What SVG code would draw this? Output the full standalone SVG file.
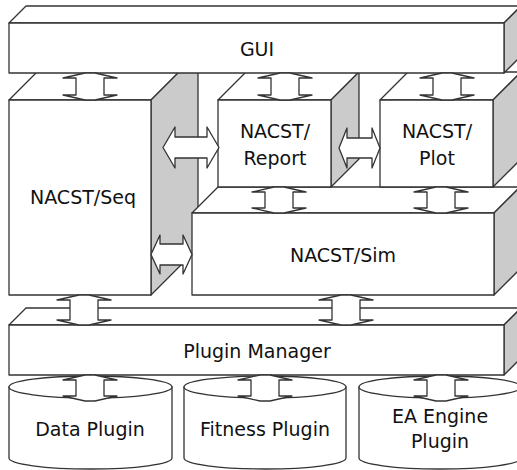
<svg xmlns="http://www.w3.org/2000/svg" width="517" height="470" viewBox="0 0 517 470">
<style>
.f{fill:#fff;stroke:#333;stroke-width:1.3;stroke-linejoin:round}
.s{fill:#cbcbcb;stroke:#333;stroke-width:1.3;stroke-linejoin:round}
.a{fill:#fff;stroke:#333;stroke-width:1.3;stroke-linejoin:round}
text{font-family:"DejaVu Sans","Liberation Sans",sans-serif;font-size:19px;fill:#111;text-anchor:middle}
</style>
<rect width="517" height="470" fill="#fff"/>
<g id="seq">
<polygon class="f" points="9,100 56,53 198,53 151,100"/>
<polygon class="s" points="151,100 198,53 198,248 151,295"/>
<rect class="f" x="9" y="100" width="142" height="195"/>
<text x="83" y="204">NACST/Seq</text>
</g>
<g id="sim">
<polygon class="f" points="192,213 218,187 520,187 494,213"/>
<polygon class="s" points="494,213 520,187 520,269 494,295"/>
<rect class="f" x="192" y="213" width="302" height="82"/>
<text x="343" y="262">NACST/Sim</text>
</g>
<g id="report">
<polygon class="f" points="218,100 246,72 359,72 331,100"/>
<polygon class="s" points="331,100 359,72 359,159 331,187"/>
<rect class="f" x="218" y="100" width="113" height="87"/>
<text x="275" y="138">NACST/</text>
<text x="275" y="165">Report</text>
</g>
<g id="plot">
<polygon class="f" points="380,100 408,72 521,72 493,100"/>
<polygon class="s" points="493,100 521,72 521,159 493,187"/>
<rect class="f" x="380" y="100" width="113" height="87"/>
<text x="437" y="138">NACST/</text>
<text x="437" y="165">Plot</text>
</g>
<g id="gui">
<polygon class="f" points="9,23 26,6 521,6 504,23"/>
<polygon class="s" points="504,23 521,6 521,56 504,73"/>
<rect class="f" x="9" y="23" width="495" height="50"/>
<text x="257" y="56">GUI</text>
</g>
<g id="pluginmanager">
<polygon class="f" points="9,325 26,308 521,308 504,325"/>
<polygon class="s" points="504,325 521,308 521,358 504,375"/>
<rect class="f" x="9" y="325" width="495" height="50"/>
<text x="257" y="358">Plugin Manager</text>
</g>
<g id="dataplugin">
<path class="f" d="M9,387 L9,458 A81.5,11 0 0 0 172,458 L172,387 Z"/>
<ellipse class="f" cx="90.5" cy="387" rx="81.5" ry="11"/>
<text x="90" y="436">Data Plugin</text>
</g>
<g id="fitnessplugin">
<path class="f" d="M184,387 L184,458 A81,11 0 0 0 346,458 L346,387 Z"/>
<ellipse class="f" cx="265" cy="387" rx="81" ry="11"/>
<text x="265" y="436">Fitness Plugin</text>
</g>
<g id="eaengineplugin">
<path class="f" d="M359,387 L359,458 A81,11 0 0 0 521,458 L521,387 Z"/>
<ellipse class="f" cx="440" cy="387" rx="81" ry="11"/>
<text x="440" y="423">EA Engine</text>
<text x="440" y="448">Plugin</text>
</g>
<g id="connectors">
<path class="a" d="M85,73 L95,73 L117,78 L104,78 L104,95 L117,95 L95,100 L85,100 L63,95 L76,95 L76,78 L63,78 Z"/>
<path class="a" d="M280,73 L290,73 L312,78 L299,78 L299,95 L312,95 L290,100 L280,100 L258,95 L271,95 L271,78 L258,78 Z"/>
<path class="a" d="M442,73 L452,73 L474,78 L461,78 L461,95 L474,95 L452,100 L442,100 L420,95 L433,95 L433,78 L420,78 Z"/>
<path class="a" d="M274,187 L284,187 L306,192 L293,192 L293,208 L306,208 L284,213 L274,213 L252,208 L265,208 L265,192 L252,192 Z"/>
<path class="a" d="M436,187 L446,187 L468,192 L455,192 L455,208 L468,208 L446,213 L436,213 L414,208 L427,208 L427,192 L414,192 Z"/>
<path class="a" d="M79,295 L89,295 L111,300 L98,300 L98,320 L111,320 L89,325 L79,325 L57,320 L70,320 L70,300 L57,300 Z"/>
<path class="a" d="M341,295 L351,295 L373,300 L360,300 L360,320 L373,320 L351,325 L341,325 L319,320 L332,320 L332,300 L319,300 Z"/>
<path class="a" d="M85,375 L95,375 L117,380 L104,380 L104,396 L117,396 L95,401 L85,401 L63,396 L76,396 L76,380 L63,380 Z"/>
<path class="a" d="M260,375 L270,375 L292,380 L279,380 L279,396 L292,396 L270,401 L260,401 L238,396 L251,396 L251,380 L238,380 Z"/>
<path class="a" d="M436,375 L446,375 L468,380 L455,380 L455,396 L468,396 L446,401 L436,401 L414,396 L427,396 L427,380 L414,380 Z"/>
<path class="a" d="M163,147.5 L175,127 L175,137 L207,137 L207,127 L219,147.5 L207,168 L207,158 L175,158 L175,168 Z"/>
<path class="a" d="M151,254.5 L160,235 L160,244 L183,244 L183,235 L192,254.5 L183,274 L183,265 L160,265 L160,274 Z"/>
<path class="a" d="M339,148 L347,128 L347,138 L372,138 L372,128 L380,148 L372,168 L372,158 L347,158 L347,168 Z"/>
</g>
</svg>
